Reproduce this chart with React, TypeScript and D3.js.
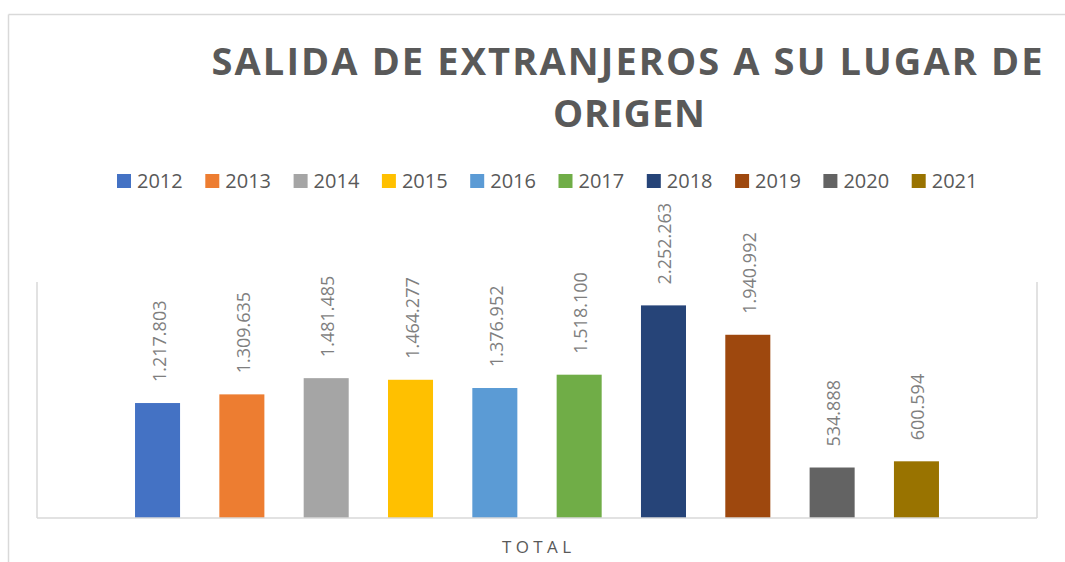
import React from "react";
import * as d3 from "d3";

const years = ["2012", "2013", "2014", "2015", "2016", "2017", "2018", "2019", "2020", "2021"];
const values = [1217803, 1309635, 1481485, 1464277, 1376952, 1518100, 2252263, 1940992, 534888, 600594];
const colors = ["#4472C4", "#ED7D31", "#A5A5A5", "#FFC000", "#5B9BD5", "#70AD47", "#264478", "#9E480E", "#636363", "#997300"];
const titleLines = ["SALIDA DE EXTRANJEROS A SU LUGAR DE", "ORIGEN"];
const categoryLabel = "TOTAL";

const W = 1065;
const H = 562;
const plot = { left: 37, right: 1037, top: 282, bottom: 518 };
const FONT = "'Open Sans', 'Liberation Sans', sans-serif";

const fmt = (v: number) => d3.format(",")(v).replace(/,/g, ".");

export default function App() {
  const x = d3
    .scaleBand<string>()
    .domain(years)
    .range([plot.left, plot.right])
    .paddingInner(0.466)
    .paddingOuter(1.1625);
  const y = d3.scaleLinear().domain([0, 2500000]).range([plot.bottom, plot.top]);
  const legendX = d3.scaleLinear().domain([0, 1]).range([117, 205.3]);
  const grid = "#d9d9d9";

  return (
    <svg
      width={W}
      height={H}
      style={{ position: "absolute", left: 0, top: 0, display: "block", background: "#fff" }}
      fontFamily={FONT}
    >
      <rect x={0} y={0} width={W} height={H} fill="#fff" />
      {/* outer chart border */}
      <line x1={8.5} y1={14.5} x2={W} y2={14.5} stroke={grid} strokeWidth={1.5} />
      <line x1={8.5} y1={14.5} x2={8.5} y2={H} stroke={grid} strokeWidth={1.5} />

      {/* title */}
      <text x={627} y={75} textAnchor="middle" fontSize={38} fontWeight={700} fill="#595959"
        textLength={831} lengthAdjust="spacing">
        {titleLines[0]}
      </text>
      <text x={629} y={127} textAnchor="middle" fontSize={38} fontWeight={700} fill="#595959"
        textLength={152} lengthAdjust="spacing">
        {titleLines[1]}
      </text>

      {/* legend */}
      {years.map((yr, i) => (
        <g key={yr} transform={`translate(${legendX(i)},0)`}>
          <rect x={0} y={174} width={14} height={14} fill={colors[i]} />
          <text x={20} y={188} fontSize={20} fill="#595959">{yr}</text>
        </g>
      ))}

      {/* plot area lines */}
      <line x1={plot.left} y1={plot.top} x2={plot.left} y2={plot.bottom} stroke={grid} strokeWidth={1.5} />
      <line x1={plot.right} y1={plot.top} x2={plot.right} y2={plot.bottom} stroke={grid} strokeWidth={1.5} />

      {/* bars */}
      {years.map((yr, i) => (
        <rect key={yr} x={x(yr)} y={y(values[i])} width={x.bandwidth()} height={y(0) - y(values[i])} fill={colors[i]} />
      ))}

      <line x1={plot.left} y1={plot.bottom} x2={plot.right} y2={plot.bottom} stroke={grid} strokeWidth={1.5} />

      {/* data labels */}
      {years.map((yr, i) => {
        const cx = (x(yr) as number) + x.bandwidth() / 2 + 1;
        const cy = y(values[i]) - 21;
        return (
          <text key={yr} transform={`translate(${cx},${cy}) rotate(-90)`} textAnchor="start"
            dominantBaseline="central" fontSize={18} fill="#7f7f7f">
            {fmt(values[i])}
          </text>
        );
      })}

      {/* category label */}
      <text x={536.5} y={553} textAnchor="middle" fontSize={17} fill="#595959"
        textLength={69} lengthAdjust="spacing">
        {categoryLabel}
      </text>
    </svg>
  );
}
